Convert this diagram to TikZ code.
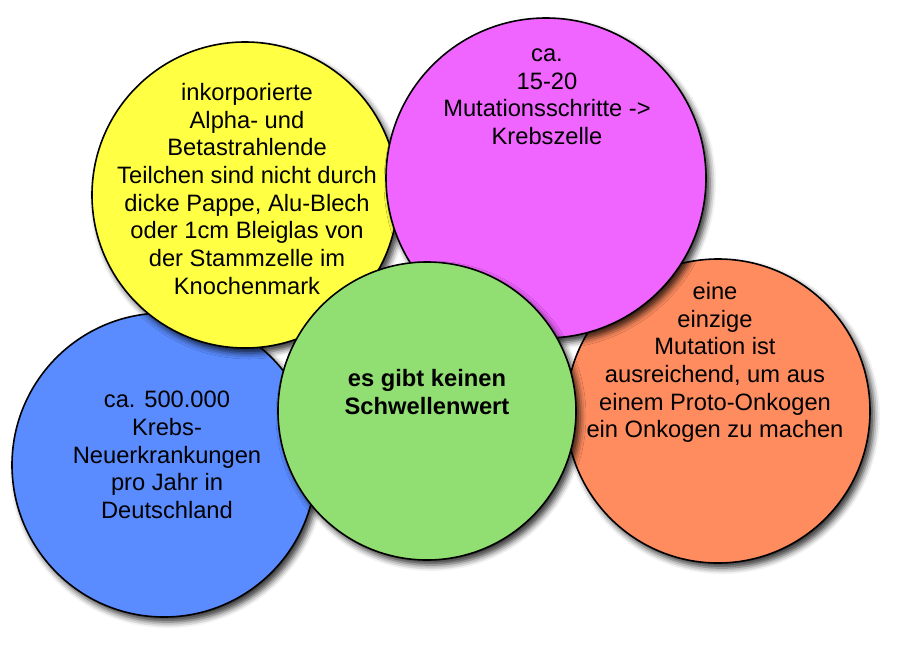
\documentclass[tikz,border=0pt]{standalone}
\usepackage{fontspec}
\setmainfont{Liberation Sans}
\usetikzlibrary{shadows.blur}
\definecolor{cyellow}{RGB}{255,255,68}
\definecolor{cmagenta}{RGB}{240,100,255}
\definecolor{cblue}{RGB}{90,140,255}
\definecolor{cgreen}{RGB}{145,222,115}
\definecolor{corange}{RGB}{255,140,95}
\tikzset{
  bubble/.style={circle, draw=black, line width=1.6pt, inner sep=0pt,
    blur shadow={shadow xshift=4pt, shadow yshift=-5pt, shadow blur radius=6pt, shadow opacity=80}},
  btext/.style={anchor=north, inner sep=0pt, align=center,
    font=\fontsize{23.7}{27.7}\selectfont},
}
\begin{document}
\begin{tikzpicture}[x=1pt,y=-1pt]
\useasboundingbox (0,0) rectangle (900,646);
% blue
\node[bubble, fill=cblue, minimum size=304pt] (blue) at (164,465) {};
\node[btext] (bluet) at (167,391) {ca. 500.000\\Krebs-\\Neuerkrankungen\\pro Jahr in\\Deutschland};
% yellow
\node[bubble, fill=cyellow, minimum size=306pt] (yellow) at (245,195) {};
\node[btext] (yellowt) at (247,83) {inkorporierte\\Alpha- und\\Betastrahlende\\Teilchen sind nicht durch\\dicke Pappe, Alu-Blech\\oder 1cm Bleiglas von\\der Stammzelle im\\Knochenmark};
% orange
\node[bubble, fill=corange, minimum size=304pt] (orange) at (718,411) {};
\node[btext] (oranget) at (715,282) {eine\\einzige\\Mutation ist\\ausreichend, um aus\\einem Proto-Onkogen\\ein Onkogen zu machen};
% magenta
\node[bubble, fill=cmagenta, minimum size=320pt] (magenta) at (546,178) {};
\node[btext] (magentat) at (547,48.5) {ca.\\15-20\\Mutationsschritte ->\\Krebszelle};
% green
\node[bubble, fill=cgreen, minimum size=298pt] (green) at (427,411) {};
\node[btext, font=\fontsize{23.7}{27.7}\selectfont\bfseries] (greent) at (427,369) {es gibt keinen\\Schwellenwert};
\end{tikzpicture}
\end{document}
